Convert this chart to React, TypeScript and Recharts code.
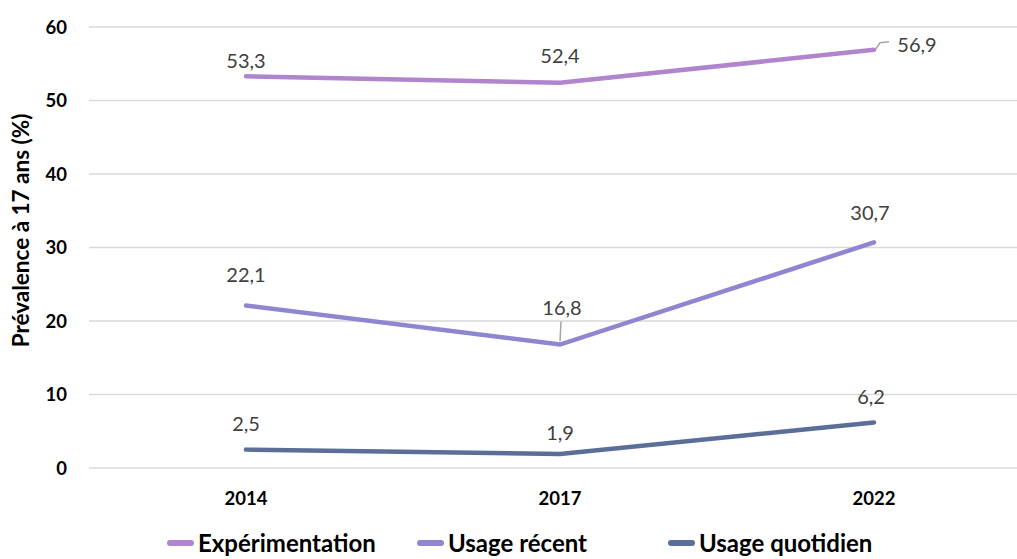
import React from 'react';
import { LineChart, Line, XAxis, YAxis, CartesianGrid, Legend, LabelList } from 'recharts';

const years = ['2014', '2017', '2022'];
const experimentation = [53.3, 52.4, 56.9];
const usageRecent = [22.1, 16.8, 30.7];
const usageQuotidien = [2.5, 1.9, 6.2];
const yTicks = [0, 10, 20, 30, 40, 50, 60];

const seriesNames = ['Expérimentation', 'Usage récent', 'Usage quotidien'];
const seriesKeys = ['exp', 'rec', 'quo'];
const seriesColors = ['#B185CE', '#8E86D0', '#5B6E97'];

const data = years.map((y, i) => ({
  year: y,
  exp: experimentation[i],
  rec: usageRecent[i],
  quo: usageQuotidien[i],
}));

const labelOffsets: Record<string, [number, number][]> = {
  exp: [[0, -16], [0, -28], [43, -6]],
  rec: [[0, -32], [2, -38], [-4, -30]],
  quo: [[0, -27], [0, -22], [-3, -26]],
};

const legendLeft = [167, 417, 668];

const FONT = 'Lato, "Open Sans", sans-serif';

const fmt = (v: number) => v.toFixed(1).replace('.', ',');

const makeLabel = (key: string) => (props: any) => {
  const { x, y, value, index } = props;
  const [dx, dy] = labelOffsets[key][index];
  const lx = x + dx;
  const ly = y + dy;
  let leader: React.ReactNode = null;
  if (key === 'exp' && index === 2) {
    leader = (
      <polyline
        points={`${x + 2},${y - 1} ${x + 6},${y - 7} ${x + 15},${y - 8}`}
        fill="none"
        stroke="#A6A6A6"
        strokeWidth={1.5}
      />
    );
  }
  if (key === 'rec' && index === 1) {
    leader = (
      <line x1={x} y1={y - 3} x2={x + 1} y2={y - 23} stroke="#A6A6A6" strokeWidth={1.5} />
    );
  }
  return (
    <g>
      {leader}
      <text
        x={lx}
        y={ly}
        textAnchor="middle"
        dominantBaseline="central"
        fontFamily={FONT}
        fontSize={20}
        fill="#404040"
      >
        {fmt(value)}
      </text>
    </g>
  );
};

const LegendContent = () => (
  <div
    style={{
      position: 'relative',
      height: 34,
      width: '100%',
      fontFamily: FONT,
      fontWeight: 700,
      fontSize: 24,
      lineHeight: '28px',
      color: '#000',
    }}
  >
    {seriesNames.map((n, i) => (
      <div
        key={n}
        style={{
          position: 'absolute',
          left: legendLeft[i],
          top: 4,
          height: 28,
          display: 'flex',
          alignItems: 'center',
          whiteSpace: 'nowrap',
        }}
      >
        <div
          style={{
            width: 27,
            height: 6,
            borderRadius: 3,
            background: seriesColors[i],
            marginRight: 4,
          }}
        />
        <span>{n}</span>
      </div>
    ))}
  </div>
);

const YLabel = (props: any) => {
  const vb = props.viewBox || { y: 27, height: 441 };
  const cx = 20;
  const cy = vb.y + vb.height / 2 - 17;
  return (
    <text
      x={cx}
      y={cy}
      transform={`rotate(-90, ${cx}, ${cy})`}
      textAnchor="middle"
      dominantBaseline="central"
      fontFamily={FONT}
      fontSize={22.5}
      fontWeight={700}
      fill="#000"
    >
      Prévalence à 17 ans (%)
    </text>
  );
};

export default function App() {
  return (
    <div style={{ position: 'absolute', left: 0, top: 0 }}>
      <LineChart
        width={1040}
        height={559}
        data={data}
        margin={{ top: 27, right: 9, bottom: 0, left: 0 }}
      >
        <CartesianGrid vertical={false} stroke="#D9D9D9" strokeWidth={1.5} />
        <XAxis
          dataKey="year"
          axisLine={false}
          tickLine={false}
          tickSize={0}
          tickMargin={24}
          height={57}
          padding={{ left: 157, right: 157 }}
          tick={{ fontFamily: FONT, fontSize: 18.5, fontWeight: 700, fill: '#000' }}
        />
        <YAxis
          domain={[0, 60]}
          ticks={yTicks}
          axisLine={false}
          tickLine={false}
          tickSize={0}
          tickMargin={22}
          width={89}
          tick={{ fontFamily: FONT, fontSize: 18.5, fontWeight: 700, fill: '#000' }}
          label={<YLabel />}
        />
        <Legend verticalAlign="bottom" height={34} content={<LegendContent />} />
        {seriesKeys.map((k, i) => (
          <Line
            key={k}
            type="linear"
            dataKey={k}
            name={seriesNames[i]}
            stroke={seriesColors[i]}
            strokeWidth={4.5}
            strokeLinecap="round"
            dot={false}
            activeDot={false}
            isAnimationActive={false}
          >
            <LabelList dataKey={k} content={makeLabel(k)} />
          </Line>
        ))}
      </LineChart>
    </div>
  );
}
